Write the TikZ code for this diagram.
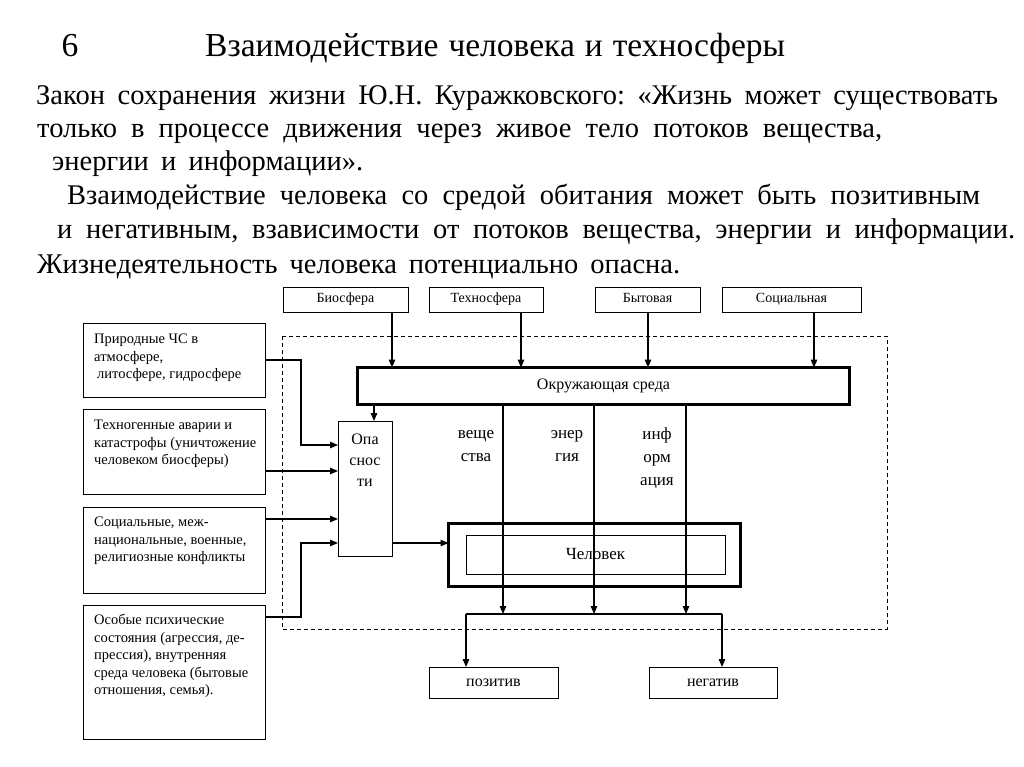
\documentclass[tikz,border=0pt]{standalone}
\usepackage{fontspec}
\setmainfont{Liberation Serif}
\usetikzlibrary{arrows.meta,calc}
\frenchspacing
\begin{document}
\begin{tikzpicture}[x=1pt,y=-1pt,
  box/.style={draw, line width=0.9pt, inner sep=0pt, outer sep=0pt},
  thickbox/.style={draw, line width=3pt, inner sep=0pt, outer sep=0pt},
  arr/.style={-{Triangle[length=8pt,width=6.5pt]}, line width=1.3pt},
  ln/.style={line width=1.3pt},
  toplbl/.style={font=\fontsize{14}{17}\selectfont, text height=9.5pt, text depth=3pt},
  flow/.style={inner sep=0pt, align=center, font=\fontsize{17}{23}\selectfont},
  small/.style={inner sep=0pt, align=left, anchor=north west, font=\fontsize{14.5}{17.5}\selectfont},
  body/.style={inner sep=0pt, anchor=base west, font=\fontsize{28.5}{32}\selectfont}
]
\useasboundingbox (0,0) rectangle (1024,767);
% title and text
\node[inner sep=0pt, anchor=base, font=\fontsize{33.5}{40}\selectfont] (num) at (70,57) {6};
\node[inner sep=0pt, anchor=base west, font=\fontsize{33.5}{40}\selectfont] (title) at (205,57) {\makebox[580pt][s]{Взаимодействие человека и техносферы}};
\node[body] (t1) at (36,105) {\makebox[962pt][s]{Закон сохранения жизни Ю.Н. Куражковского: «Жизнь может существовать}};
\node[body] (t2) at (37,138) {\makebox[845pt][s]{только в процессе движения через живое тело потоков вещества,}};
\node[body] (t3) at (52,171) {\makebox[311pt][s]{энергии и информации».}};
\node[body] (t4) at (67,205) {\makebox[913pt][s]{Взаимодействие человека со средой обитания может быть позитивным}};
\node[body] (t5) at (57,239) {\makebox[958pt][s]{и негативным, взависимости от потоков вещества, энергии и информации.}};
\node[body] (t6) at (37,273) {\makebox[643pt][s]{Жизнедеятельность человека потенциально опасна.}};
% top boxes
\node[box, toplbl, minimum width=125pt, minimum height=25pt] (bio) at (345.5,299.5) {Биосфера};
\node[box, toplbl, minimum width=114pt, minimum height=25pt] (tech) at (486,299.5) {Техносфера};
\node[box, toplbl, minimum width=105pt, minimum height=25pt] (byt) at (647.5,299.5) {Бытовая};
\node[box, toplbl, minimum width=139pt, minimum height=25pt] (soc) at (791.5,299.5) {Социальная};
% dashed frame
\draw[dashed, line width=1pt, dash pattern=on 4pt off 3pt] (282,336) rectangle (887,629);
% environment
\node[thickbox, font=\fontsize{16}{20}\selectfont, minimum width=492pt, minimum height=37pt] (env) at (603.5,386) {Окружающая среда};
% hazards
\node[box, minimum width=54pt, minimum height=135pt] (dang) at (365,488.5) {};
\node[flow, font=\fontsize{16}{21}\selectfont] (danglbl) at (365,460) {Опа\\снос\\ти};
% human
\node[thickbox, minimum width=292pt, minimum height=63pt] (humo) at (594.5,555) {};
\node[box, font=\fontsize{17}{20}\selectfont, minimum width=259pt, minimum height=39pt] (humi) at (595.5,554.5) {Человек};
% results
\node[box, font=\fontsize{16}{20}\selectfont, minimum width=129pt, minimum height=31pt] (pos) at (493.5,682.5) {позитив};
\node[box, font=\fontsize{16}{20}\selectfont, minimum width=128pt, minimum height=31pt] (neg) at (713,682.5) {негатив};
% left boxes
\node[box, minimum width=182pt, minimum height=74pt] (L1) at (174,360) {};
\node[box, minimum width=182pt, minimum height=85pt] (L2) at (174,451.5) {};
\node[box, minimum width=182pt, minimum height=86pt] (L3) at (174,550) {};
\node[box, minimum width=182pt, minimum height=134pt] (L4) at (174,672) {};
\node[small] (L1t) at (94,334) {Природные ЧС в\\атмосфере,\\\hspace{3pt}литосфере, гидросфере};
\node[small] (L2t) at (94,420) {Техногенные аварии и\\катастрофы (уничтожение\\человеком биосферы)};
\node[small] (L3t) at (94,517) {Социальные, меж-\\национальные, военные,\\религиозные конфликты};
\node[small] (L4t) at (94,614) {Особые психические\\состояния (агрессия, де-\\прессия), внутренняя\\среда человека (бытовые\\отношения, семья).};
% flow labels
\node[flow] (fv) at (476,446) {веще\\ства};
\node[flow] (fe) at (567,446) {энер\\гия};
\node[flow] (fi) at (657,458) {инф\\орм\\ация};
% helper coordinates
\coordinate (xbio) at (392,0);
\coordinate (xtech) at (521,0);
\coordinate (xbyt) at (648,0);
\coordinate (xsoc) at (814,0);
\coordinate (xdang) at (374,0);
\coordinate (xv) at (503,0);
\coordinate (xe) at (594,0);
\coordinate (xi) at (686,0);
\coordinate (hl) at (466,614);
\coordinate (hr) at (722,614);
\coordinate (yb2) at (0,445);
\coordinate (yb3) at (0,471);
\coordinate (yb4) at (0,519);
\coordinate (yb5) at (0,617);
\coordinate (yb6) at (0,543);
% top arrows
\draw[arr] (bio.south -| xbio) -- (env.north -| xbio);
\draw[arr] (tech.south -| xtech) -- (env.north -| xtech);
\draw[arr] (byt.south -| xbyt) -- (env.north -| xbyt);
\draw[arr] (soc.south -| xsoc) -- (env.north -| xsoc);
\draw[arr] (env.south -| xdang) -- (dang.north -| xdang);
% flows
\draw[arr] (env.south -| xv) -- (hl -| xv);
\draw[arr] (env.south -| xe) -- (hl -| xe);
\draw[arr] (env.south -| xi) -- (hl -| xi);
\draw[ln] (hl) -- (hr);
\draw[arr] (hl) -- (pos.north -| hl);
\draw[arr] (hr) -- (neg.north -| hr);
% left arrows
\draw[arr] (L1.east) -- ++(36,0) |- (dang.west |- yb2);
\draw[arr] (L2.east |- yb3) -- (dang.west |- yb3);
\draw[arr] (L3.east |- yb4) -- (dang.west |- yb4);
\draw[arr] (L4.east |- yb5) -- ++(36,0) |- (dang.west |- yb6);
\draw[arr] (dang.east |- yb6) -- (humo.west |- yb6);
\end{tikzpicture}
\end{document}
